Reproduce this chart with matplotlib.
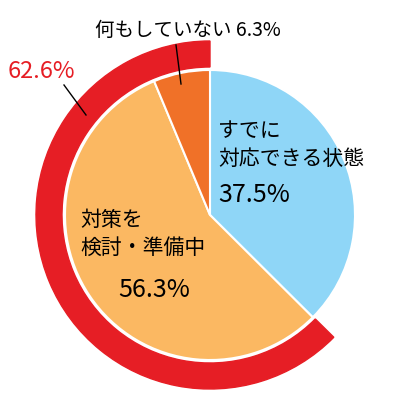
import matplotlib.pyplot as plt
from matplotlib.patches import Wedge

plt.rcParams['font.family'] = ['Noto Sans CJK JP', 'DejaVu Sans']

labels = ["すでに\n対応できる状態", "対策を\n検討・準備中", "何もしていない"]
values = [37.5, 56.3, 6.3]
colors = ["#8fd6f7", "#fbb862", "#f07128"]
ring_total = 62.6

fig = plt.figure(figsize=(4, 4), dpi=100)
ax = fig.add_axes([0, 0, 1, 1])

cx, cy, r = 210, 185, 145
ax.pie(values, colors=colors, startangle=90, counterclock=False, radius=r,
       center=(cx, cy), wedgeprops=dict(edgecolor="white", linewidth=1.5), frame=True)
ax.set_xlim(0, 400)
ax.set_ylim(0, 400)
ax.set_aspect("equal")
ax.axis("off")

# red ring over the share that is not yet ready
ax.add_patch(Wedge((cx, cy), r + 29, 90, 90 + ring_total / 100 * 360,
                   width=26, color="#e61e25"))

ax.text(218, 255, labels[0], fontsize=15, va="center", ha="left", linespacing=1.3)
ax.text(218, 205, f"{values[0]}%", fontsize=18, va="center", ha="left")
ax.text(80, 166, labels[1], fontsize=15, va="center", ha="left", linespacing=1.3)
ax.text(118, 110, f"{values[1]}%", fontsize=18, va="center", ha="left")
ax.text(95, 370, f"{labels[2]} {values[2]}%", fontsize=14, va="center", ha="left")
ax.plot([176, 181], [355, 316], color="black", lw=1)
ax.text(8, 328, f"{ring_total}%", fontsize=17, color="#e61e25", va="center", ha="left")
ax.plot([64, 86], [315, 285], color="black", lw=1)

fig.savefig("out.png", dpi=100)
